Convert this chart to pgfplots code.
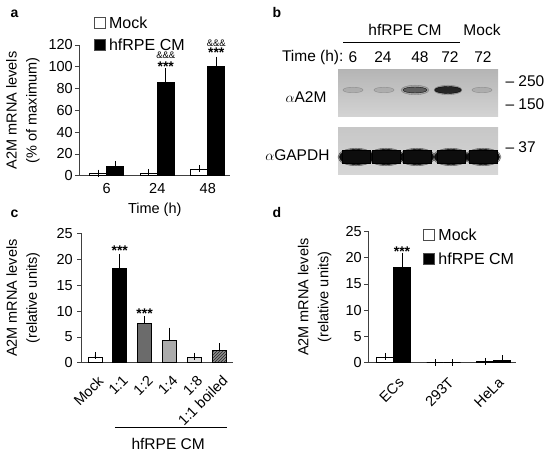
\documentclass[border=0pt]{standalone}
\usepackage{pgfplots}
\pgfplotsset{compat=1.18}
\usepackage{fontspec}
\setmainfont{Liberation Sans}
\usetikzlibrary{patterns}
\newcommand{\fs}[1]{\fontsize{#1}{#1}\selectfont}

\tikzset{
  star/.style={font=\fs{14}\bfseries, inner sep=0pt},
  amp/.style={font=\fs{9.5}, inner sep=0pt},
}
\pgfplotsset{
  base/.style={
    scale only axis, anchor=south west, clip=false,
    axis lines=left, axis line style={-, black!75, line width=0.8pt},
    tick align=outside, major tick length=4pt,
    ytick style={black!75, line width=0.7pt},
    xtick style={draw=none},
    tick label style={font=\fs{14.5}},
    /pgf/number format/assume math mode=true,
    ylabel style={align=center, font=\fontsize{14.5}{20}\selectfont, anchor=center},
    xlabel style={font=\fs{14.5}, anchor=center},
    legend cell align=left,
  },
  eb/.style={error bars/.cd, y dir=plus, y explicit,
    error mark=-, error mark options={black, line width=0.6pt, mark size=3.5pt},
    error bar style={black, line width=0.6pt}},
  sq/.style={legend image code/.code={\draw[##1, draw=black!70, line width=0.5pt] (0pt,-5.5pt) rectangle (11pt,5.5pt);}},
  blot/.style={scale only axis, anchor=south west, width=160pt, height=47pt,
    xmin=338, xmax=498, ymin=0, ymax=47, axis line style={draw=none}, ticks=none},
  band/.style n args={4}{only marks, mark=*, mark size=#1pt,
    mark options={draw=none, fill=#4, opacity=#3, xscale=#2, yscale=1}},
  rband/.style n args={4}{only marks, mark=square*, mark size=#1pt,
    mark options={draw=none, fill=#4, opacity=#3, xscale=#2, yscale=1}},
}

\begin{document}
\begin{tikzpicture}
\path[use as bounding box] (0,0) rectangle (550pt,454pt);

% panel letters
\node[anchor=base west, font=\fs{14}\bfseries] at (7pt,436pt) {a};
\node[anchor=base west, font=\fs{14}\bfseries] at (269pt,436pt) {b};
\node[anchor=base west, font=\fs{14}\bfseries] at (7pt,236pt) {c};
\node[anchor=base west, font=\fs{14}\bfseries] at (269pt,236pt) {d};

% ---------------- panel a ----------------
\begin{axis}[base, at={(79pt,278.3pt)}, width=151.5pt, height=130.7pt,
  xmin=-0.55, xmax=2.45, ymin=0, ymax=120,
  ytick={0,20,...,120}, xtick={0,1,2}, xticklabels={6,24,48},
  yticklabel style={inner sep=2pt},
  ybar=0pt, bar width=17pt,
  ylabel={A2M mRNA levels\\(\% of maximum)},
  ylabel style={at={(axis description cs:-0.37,0.5)}},
  xlabel={Time (h)}, xlabel style={at={(axis description cs:0.5,-0.262)}},
  legend style={at={(rel axis cs:0.095,1.235)}, anchor=north west, draw=none, fill=none,
    font=\fs{16}, row sep=5pt, column sep=2pt, inner sep=0pt},
]
\addplot[fill=white, draw=black, line width=0.6pt, sq, eb] coordinates {(0,2) +- (0,0.4) (1,2.5) +- (0,0.6) (2,5.5) +- (0,1.2)};
\addplot[fill=black, draw=black, line width=0.6pt, sq, eb] coordinates {(0,8.5) +- (0,2) (1,86) +- (0,9.5) (2,100.5) +- (0,5.5)};
\legend{Mock, hfRPE CM}
\node[star, xshift=8.5pt] at (axis cs:1,100.5) {***};
\node[amp, xshift=8.5pt] at (axis cs:1,110.8) {\&\&\&};
\node[star, xshift=8.5pt] at (axis cs:2,112.8) {***};
\node[amp, xshift=8.5pt] at (axis cs:2,121.6) {\&\&\&};
\end{axis}

% ---------------- panel b (blot) ----------------
\begin{axis}[blot, at={(338pt,337pt)},
  axis background/.style={shade, top color=black!29, bottom color=black!17}]
\addplot[band={2.8}{3.6}{0.22}{black!60}] coordinates {(353,27) (384,27) (482,27)};
\addplot[band={4.8}{2.9}{0.28}{black!60}] coordinates {(415,27) (448,27)};
\addplot[band={3}{4}{0.85}{black!68}] coordinates {(415,27)};
\addplot[band={3.5}{3.8}{0.95}{black!88}] coordinates {(448,27)};
\end{axis}
\begin{axis}[blot, at={(338pt,279pt)},
  axis background/.style={shade, top color=black!22, bottom color=black!16}]
\addplot[band={8.8}{2.05}{0.45}{black!75}] coordinates {(356,18) (386,18) (417,18) (451,18) (483,18)};
\addplot[band={7.5}{2.2}{1}{black!95}] coordinates {(356,18) (386,18) (417,18) (451,18) (483,18)};
\addplot[rband={6.5}{2.2}{1}{black!95}] coordinates {(356,18) (386,18) (417,18) (451,18) (483,18)};
\end{axis}
\begin{scope}[font=\fs{15.5}]
\node at (405pt,424pt) {hfRPE CM};
\draw[line width=0.8pt] (343pt,412pt) -- (460pt,412pt);
\node at (482pt,424pt) {Mock};
\node[anchor=east] at (347pt,397pt) {Time (h):};
\node at (353pt,397pt) {6};
\node at (383pt,397pt) {24};
\node at (420pt,397pt) {48};
\node at (450pt,397pt) {72};
\node at (483pt,397pt) {72};
\node at (306pt,357pt) {$\alpha$A2M};
\node[anchor=east] at (333pt,299pt) {$\alpha$GAPDH};
\node[anchor=west] at (502pt,373pt) {\textendash\ 250};
\node[anchor=west] at (502pt,350pt) {\textendash\ 150};
\node[anchor=west] at (502pt,307pt) {\textendash\ 37};
\end{scope}

% ---------------- panel c ----------------
\begin{axis}[base, at={(81pt,91.3pt)}, width=152pt, height=129.2pt,
  xmin=-0.56, xmax=5.56, ymin=0, ymax=25, ytick={0,5,...,25},
  xtick={0,...,5}, xticklabels={Mock,1:1,1:2,1:4,1:8,1:1 boiled},
  xticklabel style={xshift=2pt, yshift=-3pt, rotate=45, anchor=north east},
  yticklabel style={inner sep=4pt},
  bar width=14pt,
  ylabel={A2M mRNA levels\\(relative units)},
  ylabel style={at={(axis description cs:-0.38,0.5)}},
]
\addplot[ybar, fill=white, draw=black, line width=0.6pt, eb] coordinates {(0,1.0) +- (0,0.4)};
\addplot[ybar, fill=black, draw=black, line width=0.6pt, eb] coordinates {(1,18.2) +- (0,2.2)};
\addplot[ybar, fill=black!58, draw=black, line width=0.6pt, eb] coordinates {(2,7.7) +- (0,0.7)};
\addplot[ybar, fill=black!33, draw=black, line width=0.6pt, eb] coordinates {(3,4.3) +- (0,1.8)};
\addplot[ybar, fill=black!14, draw=black, line width=0.6pt, eb] coordinates {(4,1.1) +- (0,0.15)};
\addplot[ybar, fill=black!45, draw=black, line width=0.6pt, postaction={pattern=north east lines, pattern color=black!85}, eb] coordinates {(5,2.45) +- (0,0.65)};
\node[star] at (axis cs:1,21.7) {***};
\node[star] at (axis cs:2,9.4) {***};
\draw[line width=0.8pt] (axis cs:0.8,-12.6) -- (axis cs:5.31,-12.6);
\node[font=\fs{15.5}] at (axis cs:2.95,-15.7) {hfRPE CM};
\end{axis}

% ---------------- panel d ----------------
\begin{axis}[base, at={(368pt,91.3pt)}, width=148pt, height=131.2pt,
  xmin=-0.51, xmax=2.45, ymin=0, ymax=25, ytick={0,5,...,25},
  xtick={0,1,2}, xticklabels={ECs,293T,HeLa},
  xticklabel style={xshift=4pt, yshift=-5pt, rotate=45, anchor=north east},
  yticklabel style={inner sep=2pt},
  ybar=0pt, bar width=17pt,
  ylabel={A2M mRNA levels\\(relative units)},
  ylabel style={at={(axis description cs:-0.36,0.5)}},
  legend style={at={(rel axis cs:0.37,1.04)}, anchor=north west, draw=none, fill=none,
    font=\fs{16}, row sep=7pt, column sep=2pt, inner sep=0pt},
]
\addplot[fill=white, draw=black, line width=0.6pt, sq, eb] coordinates {(0,1.0) +- (0,0.2) (1,0) +- (0,0) (2,0.2) +- (0,0.05)};
\addplot[fill=black, draw=black, line width=0.6pt, sq, eb] coordinates {(0,18.1) +- (0,2.2) (1,0) +- (0,0) (2,0.45) +- (0,0.3)};
\legend{Mock, hfRPE CM}
\node[star, xshift=8.5pt] at (axis cs:0,21.2) {***};
\end{axis}
\end{tikzpicture}
\end{document}
